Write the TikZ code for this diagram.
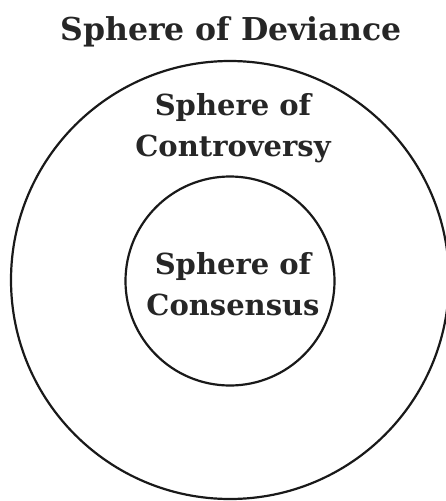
\documentclass[tikz,border=0pt]{standalone}
\usepackage{fontspec}
\setmainfont{DejaVu Serif}
\usepackage{tikz}
\usetikzlibrary{positioning}

\begin{document}
\begin{tikzpicture}[x=1pt,y=-1pt,
  sphere/.style={draw=black!90,line width=2.2pt,circle,inner sep=0pt},
  label/.style={font=\bfseries\fontsize{29}{41}\selectfont,align=center,text=black!85,inner sep=0pt}]
\useasboundingbox (0,0) rectangle (446,501);
% the two spheres, one inside the other
\node[sphere,minimum size=438pt] (deviance) at (230,280) {};
\node[sphere,minimum size=209pt] (consensus) at (230,281) {};
% labels
\node[label,anchor=base,font=\bfseries\fontsize{31.5}{41}\selectfont] (devtext) at (231,40) {Sphere of Deviance};
\node[label] (context) at (233,128) {Sphere of\\Controversy};
\node[label] (constext) at (233,284) {Sphere of\\Consensus};
\end{tikzpicture}
\end{document}
